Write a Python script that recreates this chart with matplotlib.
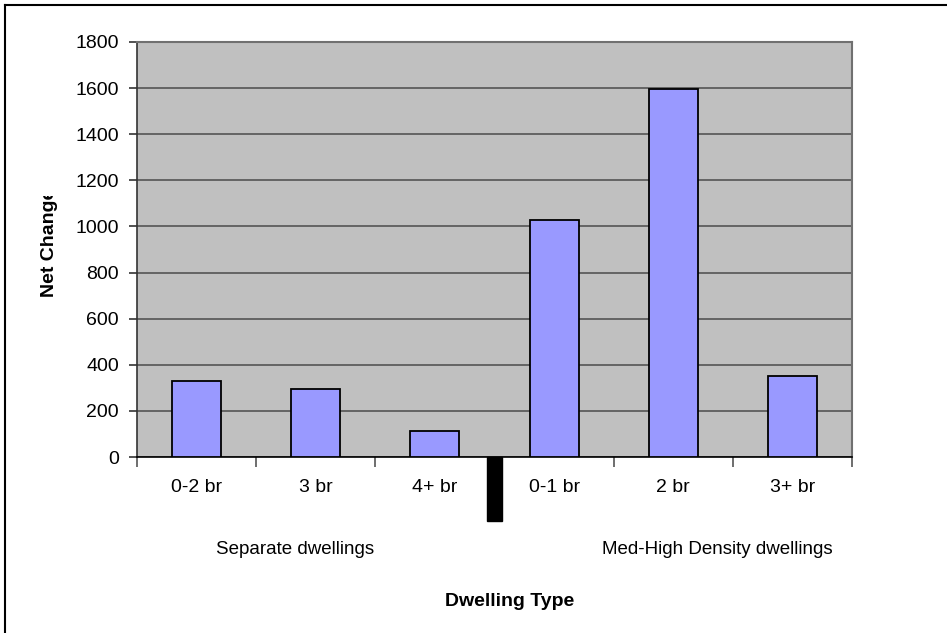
import matplotlib
matplotlib.use('Agg')
import matplotlib.pyplot as plt
from matplotlib.lines import Line2D
from matplotlib.patches import Rectangle
from matplotlib.transforms import Bbox

# dwelling categories and net change
categories = ['0-2 br', '3 br', '4+ br', '0-1 br', '2 br', '3+ br']
net_change = [331, 294, 113, 1028, 1597, 351]
groups = ['Separate dwellings', 'Med-High Density dwellings']
yticks = list(range(0, 1801, 200))

plt.rcParams['font.family'] = ['Liberation Sans', 'DejaVu Sans']

W, H = 947, 633
fig = plt.figure(figsize=(W / 100, H / 100), dpi=100)
ax = fig.add_axes([137 / W, 1 - 457 / H, (852 - 137) / W, (457 - 42) / H])

ax.set_facecolor('#C0C0C0')
x = list(range(len(categories)))
ax.bar(x, net_change, width=0.41, color='#9999FF', edgecolor='black', linewidth=1.3, zorder=3)

ax.set_xlim(-0.5, len(categories) - 0.5)
ax.set_ylim(0, 1800)
ax.set_yticks(yticks)
ax.set_yticklabels([str(v) for v in yticks], fontsize=14)
ax.yaxis.grid(True, color='#555555', linewidth=1.2, zorder=1)
ax.set_axisbelow(True)

# category labels without ticks, ticks at boundaries
ax.set_xticks(x)
ax.set_xticklabels(categories, fontsize=14)
ax.tick_params(axis='x', which='major', length=0, pad=16)
ax.set_xticks([i - 0.5 for i in range(len(categories) + 1)], minor=True)
ax.tick_params(axis='x', which='minor', length=7, color='#555555', width=1.2)
ax.tick_params(axis='y', length=6, width=1.2, color='#333333', pad=7)

for side in ['top', 'right']:
    ax.spines[side].set_color('#707070')
    ax.spines[side].set_linewidth(1.5)
ax.spines['left'].set_color('#333333')
ax.spines['bottom'].set_color('black')
ax.spines['left'].set_linewidth(1.2)
ax.spines['bottom'].set_linewidth(1.2)

# separator between the two dwelling groups
sep = Rectangle((2.5 - 0.06, 0), 0.12, -(521 - 457) / (457 - 42),
                transform=ax.get_xaxis_transform(),
                color='black', clip_on=False, zorder=5)
ax.add_patch(sep)

fig.text(295 / W, 1 - 550 / H, groups[0], ha='center', va='center', fontsize=13.5)
fig.text(602 / W, 1 - 550 / H, groups[1], ha='left', va='center', fontsize=13.5)

fig.text(510 / W, 1 - 601 / H, 'Dwelling Type', ha='center', va='center',
         fontsize=14, fontweight='bold')
ylab = fig.text(50 / W, 1 - 297 / H, 'Net Change', ha='center', va='bottom',
                fontsize=14, fontweight='bold', rotation=90)
# the label is cut off at the top like in the original
ylab.set_clip_box(Bbox.from_extents(0, 0, W, H - 196))
ylab.set_clip_on(True)

# outer chart border (cropped at right and bottom)
fig.add_artist(Line2D([5 / W, 1.0], [1 - 5 / H, 1 - 5 / H], color='black', linewidth=1.5))
fig.add_artist(Line2D([5 / W, 5 / W], [1 - 5 / H, 0.0], color='black', linewidth=1.5))

fig.savefig('out.png', dpi=100)
